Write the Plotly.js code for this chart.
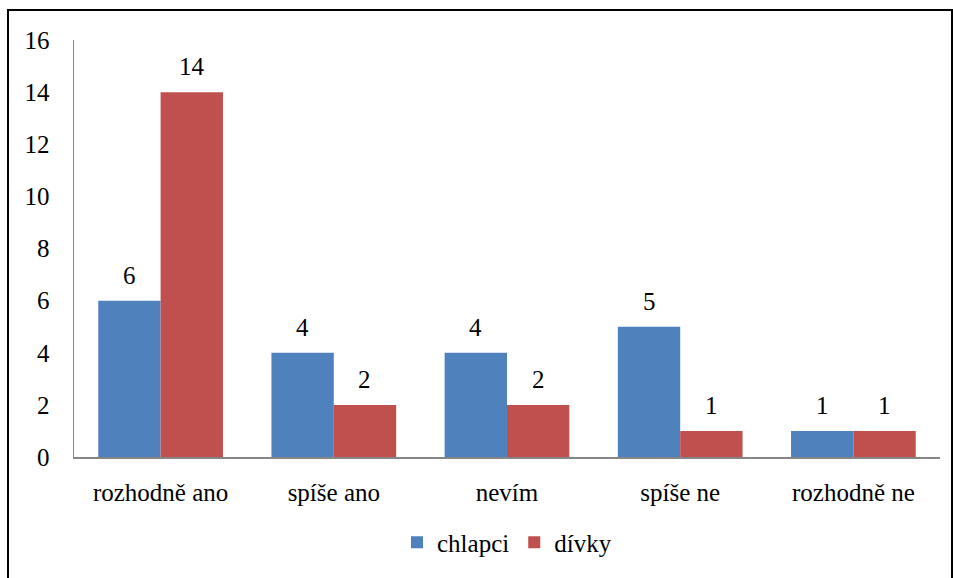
<!DOCTYPE html>
<html><head><meta charset="utf-8">
<script src="https://cdn.plot.ly/plotly-3.0.1.min.js"></script>
<style>
html,body{margin:0;padding:0;background:#fff;}
#wrap{position:relative;width:953px;height:578px;overflow:hidden;}
#chart{position:absolute;left:0;top:0;width:953px;height:578px;}
#frame{position:absolute;left:7px;top:9px;width:942px;height:600px;border:2px solid #000;pointer-events:none;}
</style></head>
<body><div id="wrap"><div id="chart"></div><div id="frame"></div></div>
<script>
const categories = ["rozhodně ano", "spíše ano", "nevím", "spíše ne", "rozhodně ne"];
const chlapci = [6, 4, 4, 5, 1];
const divky = [14, 2, 2, 1, 1];
const seriesNames = ["chlapci", "dívky"];
const yTicks = [0, 2, 4, 6, 8, 10, 12, 14, 16];

const txtFont = {family: "Liberation Serif, Tinos, Times New Roman, Times, serif", size: 25, color: "#000"};

const bargap = 0.28;
const plotW = 953 - 74 - 13;
const half = plotW / categories.length * (1 - bargap) / 4;

const traces = [
  {type: "bar", name: seriesNames[0], x: categories, y: chlapci, marker: {color: "#4F81BD"}, hoverinfo: "none"},
  {type: "bar", name: seriesNames[1], x: categories, y: divky, marker: {color: "#C0504D"}, hoverinfo: "none"}
];

const annotations = [];
[chlapci, divky].forEach((vals, si) => {
  vals.forEach((v, i) => {
    annotations.push({x: categories[i], y: v, xref: "x", yref: "y", text: String(v), showarrow: false,
      xanchor: "center", yanchor: "bottom", xshift: (si === 0 ? -half : half), yshift: 10, font: txtFont});
  });
});

const layout = {
  width: 953, height: 578,
  margin: {l: 74, r: 13, t: 40, b: 116},
  paper_bgcolor: "#fff", plot_bgcolor: "#fff",
  barmode: "group", bargap: bargap, bargroupgap: 0,
  font: txtFont,
  annotations: annotations,
  showlegend: true,
  legend: {orientation: "h", x: 0.5, xanchor: "center", y: -0.205, yanchor: "middle", font: txtFont, itemwidth: 30, traceorder: "normal"},
  xaxis: {showline: true, linecolor: "#868686", linewidth: 1.5, ticks: "", showgrid: false, zeroline: false,
          tickfont: txtFont, ticklabelstandoff: 12, fixedrange: true},
  yaxis: {range: [0, 16], tickvals: yTicks, showline: true, linecolor: "#868686", linewidth: 1.5, ticks: "",
          showgrid: false, zeroline: false, tickfont: txtFont, ticklabelstandoff: 18, fixedrange: true}
};

Plotly.newPlot("chart", traces, layout, {displayModeBar: false, staticPlot: true});
</script></body></html>
